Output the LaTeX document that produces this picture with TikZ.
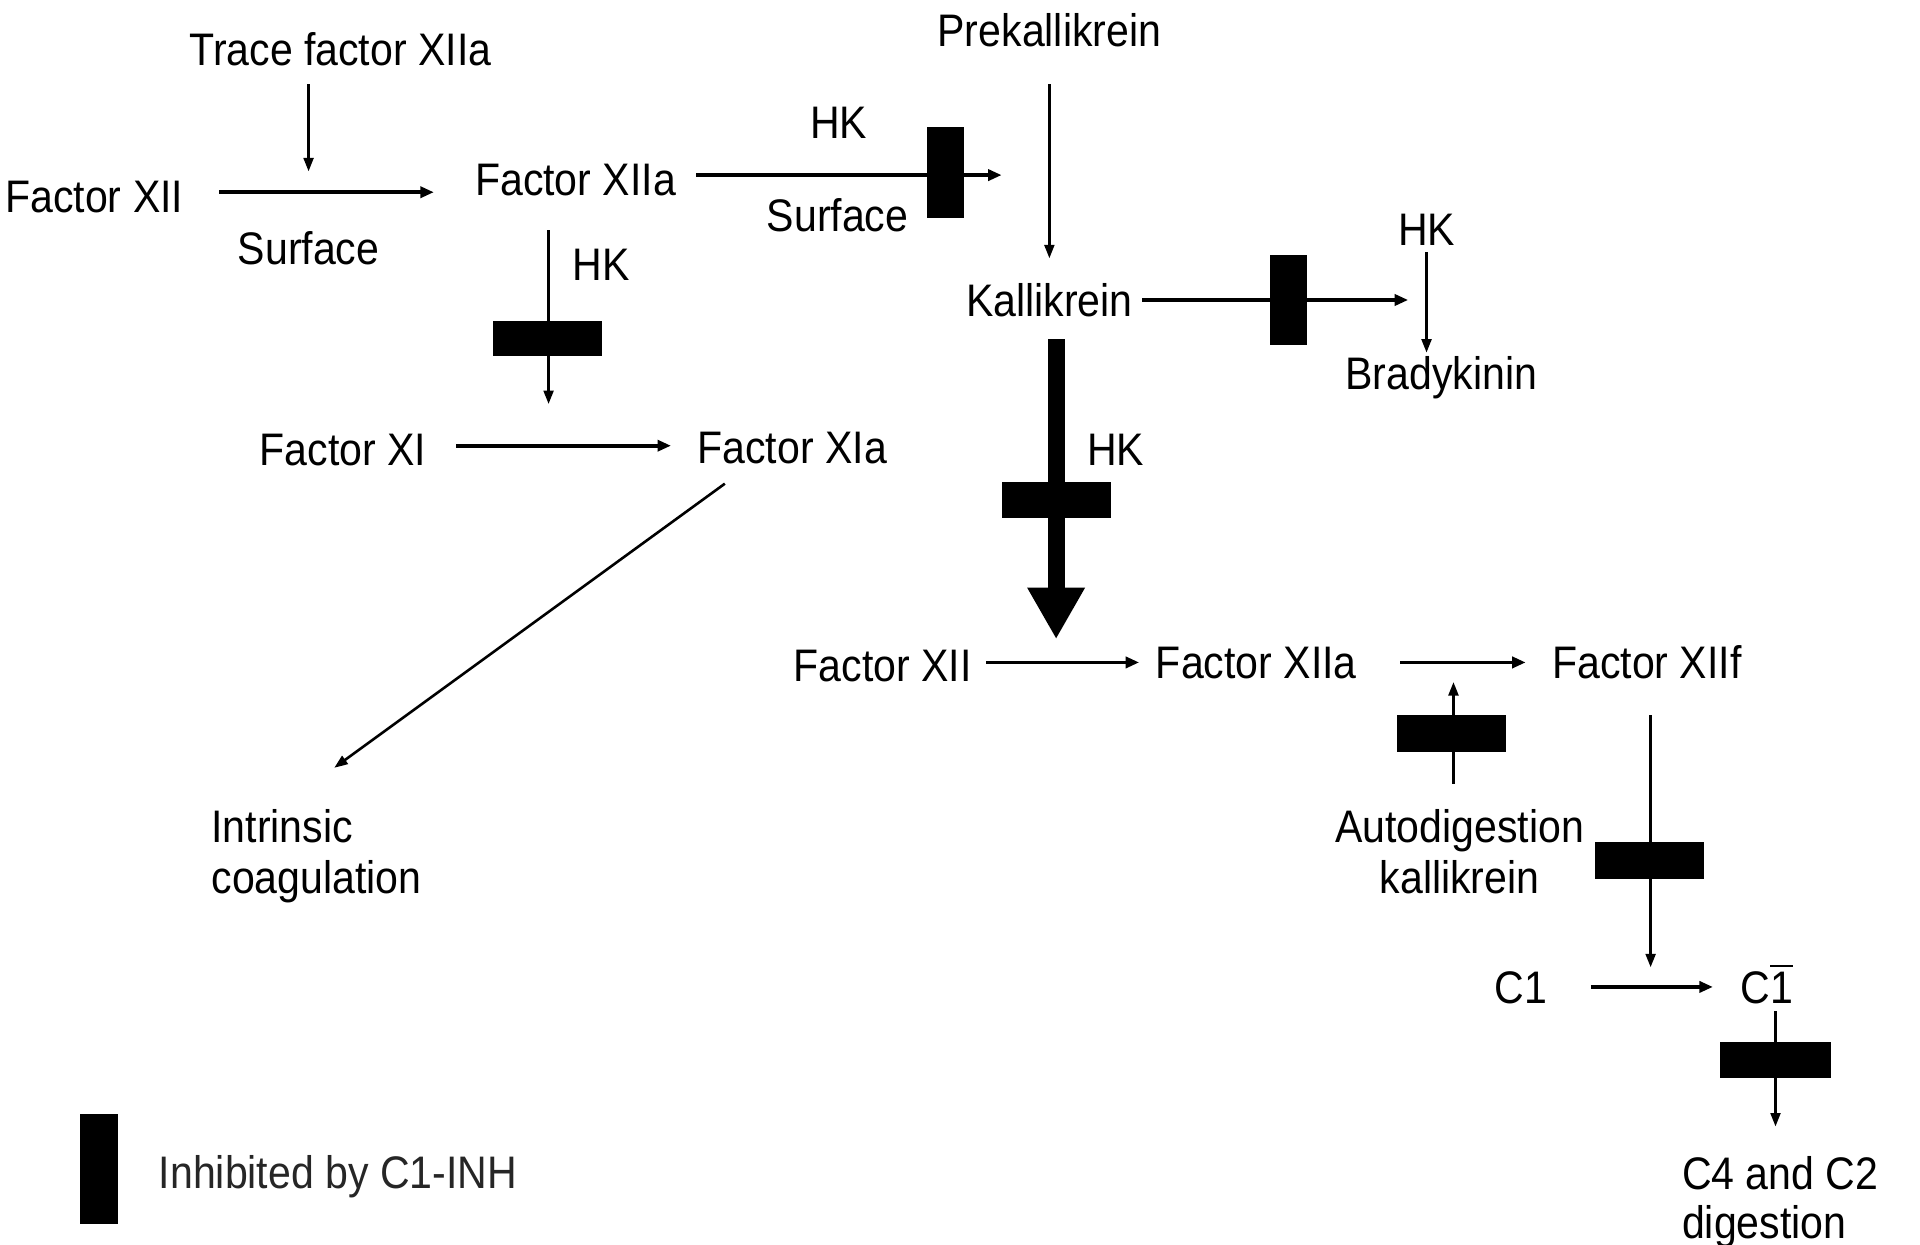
\documentclass[tikz,border=0pt]{standalone}
\usepackage{fontspec}
\setmainfont{Liberation Sans}[FakeStretch=0.9]
\usetikzlibrary{arrows.meta,calc}
\begin{document}
\begin{tikzpicture}[x=0.1mm,y=-0.1mm,
  lbl/.style={inner sep=0pt,text height=2.66mm,text depth=0pt,font=\fontsize{10.6pt}{12pt}\selectfont},
  multi/.style={inner sep=0pt,font=\fontsize{10.6pt}{12pt}\selectfont},
  arr/.style={line width=0.6pt,-{Triangle[length=1.1mm,width=0.8mm]}},
  harr/.style={line width=0.9pt,-{Triangle[length=1.1mm,width=0.9mm]}},
  thick arr/.style={line width=4pt,-{Triangle[length=4.2mm,width=4.4mm]}},
  inh/.style={fill=black,draw=none,inner sep=0pt},
]
\useasboundingbox (0,0) rectangle (1568,1016);

% texts
\node[lbl] (trace) at (278,40) {Trace factor XIIa};
\node[lbl] (fxii1) at (77,160) {Factor XII};
\node[lbl] (surf1) at (252,203) {Surface};
\node[lbl] (fxiia1) at (470,146) {Factor XIIa};
\node[lbl] (hk1) at (685,100) {HK};
\node[lbl] (surf2) at (684,176) {Surface};
\node[lbl] (prek) at (857,25) {Prekallikrein};
\node[lbl] (kall) at (857,245) {Kallikrein};
\node[lbl] (hk2) at (1165,187) {HK};
\node[lbl] (brady) at (1177,305) {Bradykinin};
\node[lbl] (hk3) at (491,216) {HK};
\node[lbl] (fxi) at (280,367) {Factor XI};
\node[lbl] (fxia) at (647,365) {Factor XIa};
\node[lbl] (hk4) at (911,367) {HK};
\node[multi,align=left,anchor=north west] (intr) at (172,660) {Intrinsic\\coagulation};
\node[lbl] (fxii2) at (721,543) {Factor XII};
\node[lbl] (fxiia2) at (1026,541) {Factor XIIa};
\node[lbl] (fxiif) at (1345,541) {Factor XIIf};
\node[multi,align=center,anchor=north] (auto) at (1192,660) {Autodigestion\\kallikrein};
\node[lbl] (c1) at (1242,806) {C1};
\node[lbl] (c1b) at (1443,806) {C$\overline{\mbox{1}}$};
\node[multi,align=left,anchor=north west,font=\fontsize{10.6pt}{11.4pt}\selectfont] (c4) at (1373,944) {C4 and C2\\digestion};
\node[lbl,text=black!85] (legtext) at (276,957) {Inhibited by C1-INH};

% inhibitor bars
\coordinate (b1c) at (772,141);
\coordinate (b2c) at (447.5,276.5);
\coordinate (b3c) at (1052,245);
\coordinate (b4c) at (862.5,408.5);
\coordinate (b5c) at (1185,599);
\coordinate (b6c) at (1347,703);
\coordinate (b7c) at (1450,865.5);

% free ends of connectors
\coordinate (j1) at (252,140);
\coordinate (j2) at (818,143);
\coordinate (j3) at (448,330);
\coordinate (j4) at (1150,245);
\coordinate (j5) at (862.5,522);
\coordinate (j6) at (1187,557);
\coordinate (j7) at (1348,790);

% connectors
\draw[arr] ($(trace.south -| j1)+(0,15)$) -- (j1);
\draw[harr,shorten <=2.85mm,shorten >=3.3mm] (fxii1.east |- 0,157) -- (fxiia1.west |- 0,157);
\draw[harr] ($(fxiia1.east |- j2)+(16,0)$) -- (j2);
\draw[arr,shorten <=3mm,shorten >=2mm] (prek.south) -- (kall.north);
\draw[arr] ($(fxiia1.south -| j3)+(0,28)$) -- (j3);
\draw[harr] ($(kall.east |- j4)+(7,0)$) -- (j4);
\draw[arr,shorten <=0.5mm,shorten >=0.3mm] (hk2.south) -- (hk2.south |- brady.north);
\draw[harr,shorten <=2.4mm,shorten >=2.1mm] (fxi.east |- 0,364) -- (fxia.west |- 0,364);
\draw[arr] ($(fxia.south west)+(23,16)$) -- ($(intr.north west)+(101,-33)$);
\draw[thick arr] ($(kall.south -| j5)+(0,18)$) -- (j5);
\draw[harr,shorten <=1.1mm,shorten >=1.3mm] (fxii2.east |- 0,541) -- (fxiia2.west |- 0,541);
\draw[harr,shorten <=3.5mm,shorten >=2.1mm] (fxiia2.east |- 0,541) -- (fxiif.west |- 0,541);
\draw[arr] ($(auto.north -| j6)+(0,-20)$) -- (j6);
\draw[arr] ($(fxiif.south -| j7)+(0,29)$) -- (j7);
\draw[harr,shorten <=3.5mm,shorten >=2.2mm] (c1.east |- 0,806) -- (c1b.west |- 0,806);
\draw[arr,shorten <=0.6mm,shorten >=2.4mm] (c1b.south -| b7c) -- (c4.north -| b7c);

% bars drawn on top
\node[inh,minimum width=3mm,minimum height=7.4mm] (b1) at (b1c) {};
\node[inh,minimum width=8.9mm,minimum height=2.9mm] (b2) at (b2c) {};
\node[inh,minimum width=3mm,minimum height=7.4mm] (b3) at (b3c) {};
\node[inh,minimum width=8.9mm,minimum height=2.9mm] (b4) at (b4c) {};
\node[inh,minimum width=8.9mm,minimum height=3mm] (b5) at (b5c) {};
\node[inh,minimum width=8.9mm,minimum height=3mm] (b6) at (b6c) {};
\node[inh,minimum width=9mm,minimum height=2.9mm] (b7) at (b7c) {};
\node[inh,minimum width=3.1mm,minimum height=9mm] (leg) at (80.5,955) {};
\end{tikzpicture}
\end{document}
